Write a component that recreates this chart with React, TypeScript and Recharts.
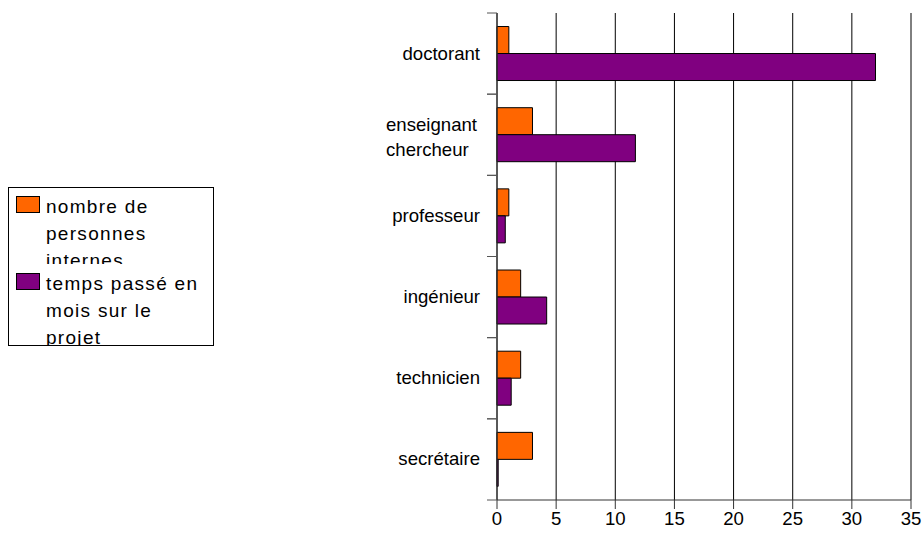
import React from 'react';
import { BarChart, Bar, XAxis, YAxis, CartesianGrid, Legend } from 'recharts';

const categories = ['doctorant', 'enseignant\nchercheur', 'professeur', 'ingénieur', 'technicien', 'secrétaire'];
const internalPeople = [1, 3, 1, 2, 2, 3];
const monthsOnProject = [32, 11.7, 0.7, 4.2, 1.2, 0.1];
const xTicks = [0, 5, 10, 15, 20, 25, 30, 35];
const seriesNames = ['nombre de personnes internes', 'temps passé en mois sur le projet'];
const seriesLines = [
  ['nombre de', 'personnes', 'internes'],
  ['temps passé en', 'mois sur le', 'projet'],
];

const data = categories.map((c, i) => ({
  name: c,
  people: internalPeople[i],
  months: monthsOnProject[i],
}));

const FONT = '"Liberation Sans", Arial, sans-serif';

const CategoryTick = (props: any) => {
  const { x, y, payload } = props;
  const half = payload.offset ?? 0;
  const lines = String(payload.value).split('\n');
  return (
    <g>
      <line x1={x - 10} x2={x} y1={y - half} y2={y - half} stroke="#555" strokeWidth={1} />
      <line x1={x - 10} x2={x} y1={y + half} y2={y + half} stroke="#555" strokeWidth={1} />
      {lines.length === 1 ? (
        <text x={x - 17} y={y} dy={6} textAnchor="end" fontSize={18.6} fontFamily={FONT} fill="#000">
          {lines[0]}
        </text>
      ) : (
        <text x={x - 111} y={y} textAnchor="start" fontSize={18.6} fontFamily={FONT} fill="#000">
          {lines.map((l, i) => (
            <tspan key={i} x={x - 111} y={y - 4 + i * 25}>
              {l}
            </tspan>
          ))}
        </text>
      )}
    </g>
  );
};

const LegendBox = (props: any) => {
  const payload = props.payload || [];
  return (
    <div
      style={{
        boxSizing: 'border-box',
        width: 206,
        height: 159,
        border: '1px solid #000',
        background: '#fff',
        overflow: 'hidden',
        fontFamily: FONT,
        fontSize: 19,
        letterSpacing: 1.3,
        lineHeight: '27px',
        color: '#000',
        paddingTop: 5,
      }}
    >
      {payload.map((p: any, i: number) => (
        <div
          key={i}
          style={{
            position: 'relative',
            height: i === 0 ? 71 : 80,
            marginBottom: i === 0 ? 6 : 0,
            overflow: 'hidden',
          }}
        >
          <div
            style={{
              position: 'absolute',
              left: 7,
              top: 3,
              width: 24,
              height: 17,
              boxSizing: 'border-box',
              background: p.color,
              border: '1px solid #000',
            }}
          />
          <div style={{ position: 'absolute', left: 37, top: 0, whiteSpace: 'nowrap' }}>
            {seriesLines[i].map((l, j) => (
              <div key={j}>{l}</div>
            ))}
          </div>
        </div>
      ))}
    </div>
  );
};

export default function App() {
  return (
    <div style={{ position: 'absolute', left: 0, top: 0, width: 922, height: 538 }}>
      <BarChart
        width={922}
        height={538}
        data={data}
        layout="vertical"
        margin={{ top: 13, right: 11, bottom: 0, left: 0 }}
        barCategoryGap="16.67%"
        barGap={0}
        style={{ overflow: 'visible' }}
      >
        <CartesianGrid horizontal={false} vertical={true} stroke="#000" strokeWidth={1} />
        <XAxis
          type="number"
          domain={[0, 35]}
          ticks={xTicks}
          interval={0}
          height={38}
          tickSize={9}
          tickMargin={3}
          stroke="#333"
          tick={{ fontSize: 18.6, fontFamily: FONT, fill: '#000' }}
        />
        <YAxis
          type="category"
          dataKey="name"
          width={497}
          tickLine={false}
          tickSize={0}
          tickMargin={0}
          interval={0}
          stroke="#333"
          tick={<CategoryTick />}
        />
        <Legend
          layout="vertical"
          align="center"
          verticalAlign="middle"
          wrapperStyle={{ left: 8, top: 186.7, width: 206, height: 159 }}
          content={<LegendBox />}
        />
        <Bar dataKey="people" name={seriesNames[0]} fill="#ff6600" stroke="#000" strokeWidth={1} isAnimationActive={false} />
        <Bar dataKey="months" name={seriesNames[1]} fill="#800080" stroke="#000" strokeWidth={1} isAnimationActive={false} />
      </BarChart>
    </div>
  );
}
